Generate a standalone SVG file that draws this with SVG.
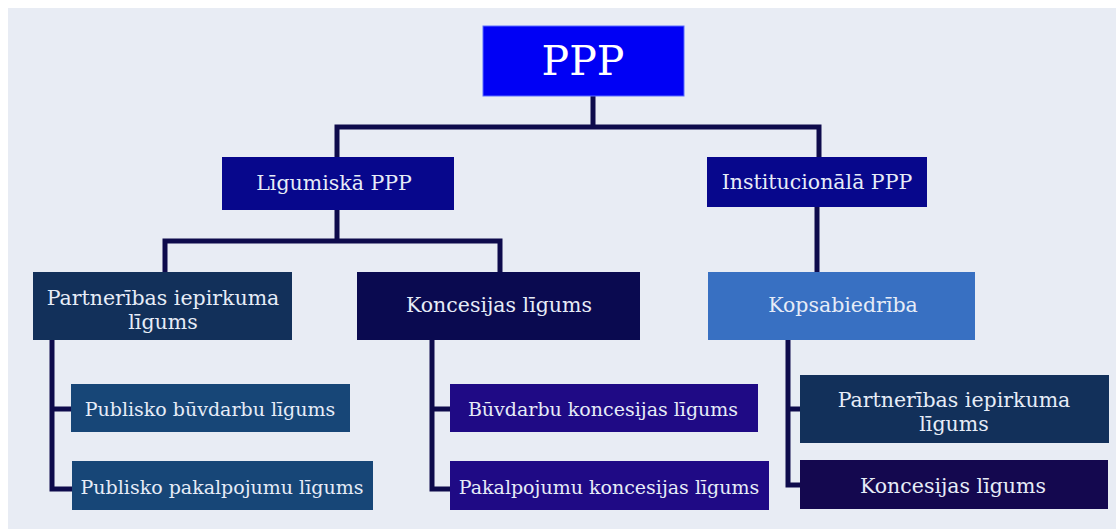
<svg xmlns="http://www.w3.org/2000/svg" width="1116" height="529" viewBox="0 0 1116 529">
<style>
.t{font-family:"DejaVu Serif","Liberation Serif",serif;fill:#e6ecf7;text-anchor:middle;dominant-baseline:central}
.s{font-size:20.5px}
.m{font-size:19px}
.c{fill:none;stroke:#0e0b4c;stroke-width:5;stroke-linejoin:miter}
</style>
<rect x="0" y="0" width="1116" height="529" fill="#ffffff"/>
<rect x="8" y="8" width="1108" height="521" fill="#e8ecf4"/>
<g id="connectors">
<path class="c" d="M593 96 V127 M337 157 V127 H819 V157"/>
<path class="c" d="M337 210 V241 M165 272 V241 H500 V272"/>
<path class="c" d="M817 207 V272"/>
<path class="c" d="M52 340 V489 H72 M52 409 H72"/>
<path class="c" d="M432 340 V489 H451 M432 409 H451"/>
<path class="c" d="M788 340 V485 H801 M788 409 H801"/>
</g>
<g id="ppp"><rect x="483" y="26" width="201" height="70" fill="#0000f5" stroke="#5a6cff" stroke-width="1"/><text class="t" x="583" y="61" style="font-size:41px;fill:#ffffff">PPP</text></g>
<g id="ligumiska"><rect x="222" y="157" width="232" height="53" fill="#07078c"/><text class="t s" x="334" y="183">Līgumiskā PPP</text></g>
<g id="institucionala"><rect x="707" y="157" width="220" height="50" fill="#07078c"/><text class="t s" x="817" y="182">Institucionālā PPP</text></g>
<g id="partneribas1"><rect x="33" y="272" width="259" height="68" fill="#12305a"/><text class="t s" x="163" y="298">Partnerības iepirkuma</text><text class="t s" x="163" y="322">līgums</text></g>
<g id="koncesijas1"><rect x="357" y="272" width="283" height="68" fill="#0a0a50"/><text class="t s" x="499" y="305">Koncesijas līgums</text></g>
<g id="kopsabiedriba"><rect x="708" y="272" width="267" height="68" fill="#3870c2"/><text class="t s" x="843" y="305">Kopsabiedrība</text></g>
<g id="publ-buvd"><rect x="71" y="384" width="279" height="48" fill="#174677"/><text class="t m" x="210" y="409">Publisko būvdarbu līgums</text></g>
<g id="publ-pakalp"><rect x="72" y="461" width="301" height="49" fill="#174677"/><text class="t m" x="222" y="487">Publisko pakalpojumu līgums</text></g>
<g id="buvd-konc"><rect x="450" y="384" width="308" height="48" fill="#1f0a85"/><text class="t m" x="603" y="409">Būvdarbu koncesijas līgums</text></g>
<g id="pakalp-konc"><rect x="450" y="461" width="319" height="49" fill="#1f0a85"/><text class="t m" x="609" y="487">Pakalpojumu koncesijas līgums</text></g>
<g id="partneribas2"><rect x="800" y="375" width="309" height="68" fill="#12305a"/><text class="t s" x="954" y="400">Partnerības iepirkuma</text><text class="t s" x="954" y="424">līgums</text></g>
<g id="koncesijas2"><rect x="800" y="460" width="308" height="49" fill="#14084f"/><text class="t s" x="953" y="486">Koncesijas līgums</text></g>
</svg>
